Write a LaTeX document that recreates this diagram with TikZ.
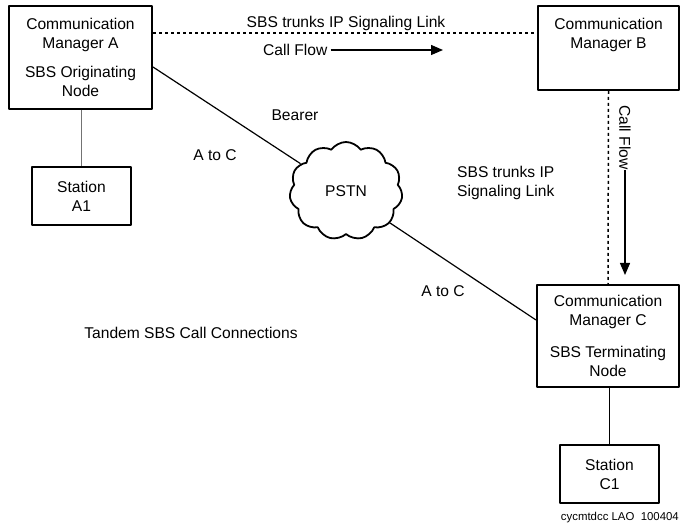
\documentclass[tikz,border=0pt]{standalone}
\usepackage{fontspec}
\setmainfont{Liberation Sans}
\usetikzlibrary{shapes.symbols,arrows.meta,calc}
\tikzset{
  cmbox/.style={draw, line width=2pt, align=center, inner sep=0pt},
  lbl/.style={inner sep=0pt, align=center},
  link/.style={line width=1.2pt},
  sigline/.style={line width=1.5pt, dash pattern=on 3pt off 3pt},
  flow/.style={line width=1.3pt, -{Triangle[length=12pt,width=10pt]}},
}
\begin{document}
\begin{tikzpicture}[x=1pt, y=-1pt, line join=round, font=\fontsize{15.6}{19}\selectfont]
	\useasboundingbox (0,0) rectangle (680,529);
	% managers and stations
	\node[cmbox, minimum width=143pt, minimum height=103pt] (cmA) at (80.5,57.5) {Communication\\Manager A\\[10pt]SBS Originating\\Node};
	\node[cmbox, minimum width=99pt, minimum height=58pt] (stA1) at (81.5,196) {Station\\A1};
	\node[cmbox, minimum width=141pt, minimum height=84pt] (cmB) at (608.5,48) {};
	\node[lbl] (cmBtxt) at ($(cmB.north)+(0,30)$) {Communication\\Manager B};
	\node[cmbox, minimum width=142pt, minimum height=102pt] (cmC) at (608,336) {Communication\\Manager C\\[13pt]SBS Terminating\\Node};
	\node[cmbox, minimum width=99pt, minimum height=58pt] (stC1) at (609.5,474) {Station\\C1};
	\node[draw, cloud, cloud puffs=11, cloud puff arc=110, cloud ignores aspect, minimum width=113pt, minimum height=98pt, line width=1.8pt, inner sep=0pt] (pstn) at (346,191) {PSTN};
	% connections
	\draw[link, black!55] (cmA.south -| stA1.north) -- (stA1.north);
	\draw[link] (cmC.south -| stC1.north) -- (stC1.north);
	\draw[link] ($(cmA.east)+(0,9.5)$) -- (pstn.149);
	\draw[link] (pstn.-36) -- ($(cmC.west)+(0,-16)$);
	\draw[sigline] ($(cmA.east)+(0,-24.5)$) coordinate (sigA) -- (sigA -| cmB.west);
	\draw[sigline] (cmB.south) -- (cmC.north);
	% labels
	\node[lbl] (sigab) at (346,23) {SBS trunks IP Signaling Link};
	\node[lbl, anchor=west] (flowab) at (263,50) {Call Flow};
	\coordinate (flowabend) at (443,50);
	\draw[flow] ($(flowab.east)+(3,0)$) -- (flowabend);
	\node[lbl, rotate=-90] (flowbc) at (625,137.5) {Call Flow};
	\coordinate (flowbcend) at (625,275);
	\draw[flow] (flowbc.east) -- (flowbcend);
	\node[lbl] (bearer) at (295,115) {Bearer};
	\node[lbl] (atocA) at (215,155) {A to C};
	\node[lbl] (atocC) at (443,291) {A to C};
	\node[lbl, anchor=west, align=left] (sigbc) at (457,183) {SBS trunks IP\\Signaling Link};
	\node[lbl] (title) at (191,333) {Tandem SBS Call Connections};
	\node[lbl, anchor=east, font=\fontsize{11.4}{13}\selectfont] (stamp) at (679,518) {cycmtdcc LAO\ \ 100404};
\end{tikzpicture}
\end{document}
